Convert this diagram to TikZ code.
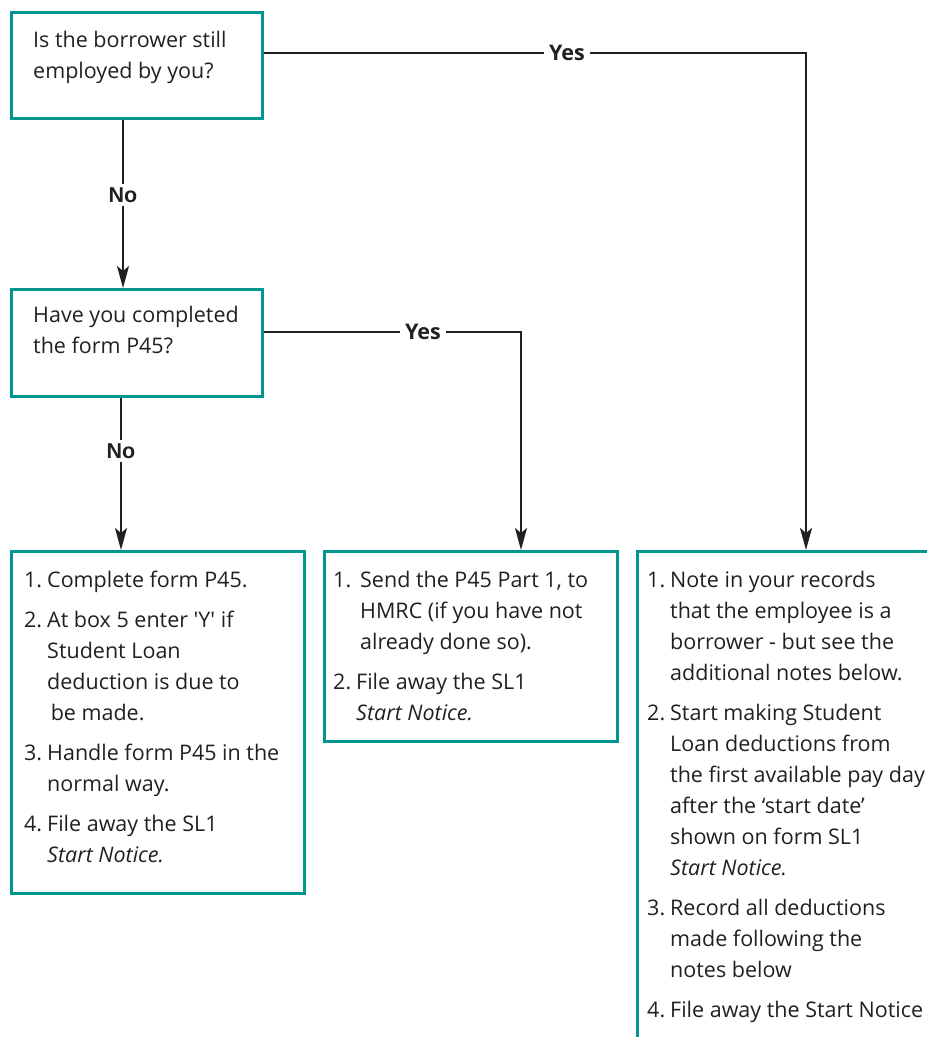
\documentclass[tikz,border=0pt]{standalone}
\usepackage{fontspec}
\setmainfont{Open Sans}
\newfontfamily\arialfont{Liberation Sans}
\usetikzlibrary{arrows.meta, calc}
\definecolor{boxteal}{HTML}{00968F}
\definecolor{inkgray}{HTML}{231F20}
\newcommand{\numb}[2][23pt]{\makebox[#1][l]{#2}}
\newcommand{\ind}{\hspace*{23pt}}

\begin{document}
\begin{tikzpicture}[x=1pt, y=-1pt,
    box/.style={draw=boxteal, line width=3pt, inner sep=0pt, anchor=north west},
    txt/.style={anchor=base west, inner sep=0pt, text=inkgray,
      font=\fontsize{21.5}{31}\selectfont},
    lbl/.style={inner sep=5pt, text=inkgray, font=\fontsize{21.5}{26}\selectfont\bfseries},
    flow/.style={draw=inkgray, line width=2pt, -{Stealth[length=22pt, width=12pt, inset=5pt]}},
    link/.style={draw=inkgray, line width=2pt}]
\useasboundingbox (0,0) rectangle (927,1037);
\clip (0,0) rectangle (927,1037);
% boxes
\node[box, minimum width=251pt, minimum height=106pt] (q1) at (10,11) {};
\node[box, minimum width=251pt, minimum height=107pt] (q2) at (10,288) {};
\node[box, minimum width=293pt, minimum height=342pt] (b1) at (10,550) {};
\node[box, minimum width=293pt, minimum height=190pt] (b2) at (323,550) {};
\node[box, minimum width=330pt, minimum height=530pt] (b3) at (636,550) {};
% texts
\node[txt] (t1) at (33,47) {\parbox[t]{220pt}{\raggedright
  Is the borrower still\\ employed by you?}};
\node[txt] (t2) at (33,322) {\parbox[t]{220pt}{\raggedright
  Have you completed\\ the form P45?}};
\node[txt] (t3) at (24,587) {\parbox[t]{280pt}{\raggedright
  \numb{1.}Complete form P45.\\[9pt]
  \numb{2.}At box 5 enter \textquotesingle Y\textquotesingle{} if\\
  \ind Student Loan\\
  \ind deduction is due to\\
  \ind\,be made.\\[9pt]
  \numb{3.}Handle form P45 in the\\
  \ind normal way.\\[9pt]
  \numb{4.}File away the SL1\\
  \ind\textit{Start Notice.}}};
\node[txt] (t4) at (333,587) {\parbox[t]{280pt}{\raggedright
  \numb[27pt]{1.}Send the P45 Part 1, to\\
  \hspace*{27pt}HMRC (if you have not\\
  \hspace*{27pt}already done so).\\[9pt]
  \numb{2.}File away the SL1\\
  \ind\textit{Start Notice.}}};
\node[txt] (t5) at (647,587) {\parbox[t]{300pt}{\raggedright
  \numb{1.}Note in your records\\
  \ind that the employee is a\\
  \ind borrower - but see the\\
  \ind additional notes below.\\[9pt]
  \numb{2.}Start making Student\\
  \ind Loan deductions from\\
  \ind the first available pay day\\
  \ind after the `start date'\\
  \ind shown on form SL1\\
  \ind\textit{Start Notice.}\\[9pt]
  \numb{3.}Record all deductions\\
  \ind made following the\\
  \ind notes below\\[9pt]
  \numb{4.}File away the Start Notice}};
% labels
\node[lbl] (yes1) at (567,53) {Yes};
\node[lbl] (yes2) at (423,332) {Yes};
\node[lbl, inner sep=3pt, font=\arialfont\fontsize{21.5}{26}\selectfont\bfseries] (no1) at (123,195) {No};
\node[lbl, inner sep=3pt, font=\arialfont\fontsize{21.5}{26}\selectfont\bfseries] (no2) at (121,451) {No};
% connectors
\draw[link] (q1.east |- yes1) -- (yes1.west);
\draw[flow] (yes1.east) -| ($(b3.north west)+(170,0)$);
\draw[link] (q2.east |- yes2) -- (yes2.west);
\draw[flow] (yes2.east) -| ($(b2.north west)+(198,0)$);
\draw[link] (q1.south -| no1) -- (no1.north);
\draw[flow] (no1.south) -- (no1 |- q2.north);
\draw[link] (q2.south -| no2) -- (no2.north);
\draw[flow] (no2.south) -- (no2 |- b1.north);
\end{tikzpicture}
\end{document}
